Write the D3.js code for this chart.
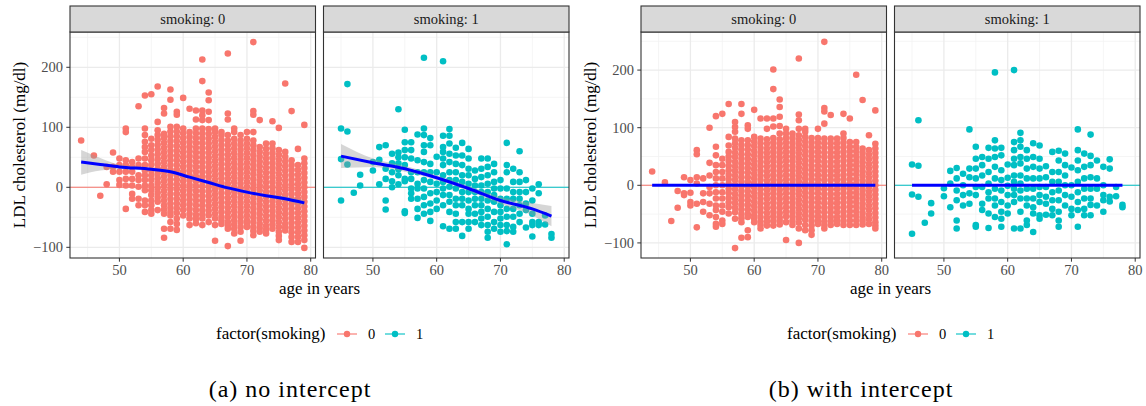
<!DOCTYPE html>
<html>
<head>
<meta charset="utf-8">
<script src="https://d3js.org/d3.v7.min.js"></script>
<style>
  body { margin: 0; background: #fff; }
  text { font-family: "Liberation Serif", "DejaVu Serif", serif; }
</style>
</head>
<body>
<script>
// ---- data (rows are [age, ldl, ldl, ...]) ----
// (a) no intercept, smoking 0
const noIntSmk0 = [
  [44, 78], [46, 53], [47, -14], [48, 34, 5], [49, 58, 34, 26], [50, 48, 37, 26, 12, 4],
  [51, 98, 92, 45, 37, 26, 14, 3, -36], [52, 42, 34, 26, 14, 3, -11, -19],
  [53, 135, 48, 37, 20, 12, 1, -19, -30],
  [54, 153, 98, 87, 76, 67, 59, 48, 37, 28, 20, 12, 3, -5, -22, -30, -41],
  [55, 155, 81, 70, 62, 53, 45, 37, 28, 20, 12, 3, -5, -13, -22, -30, -38, -44],
  [56, 168, 109, 95, 87, 79, 71, 63, 55, 47, 39, 31, 23, 15, 7, -1, -9, -17, -24, -38],
  [57, 132, 123, 89, 82, 74, 66, 58, 50, 42, 34, 26, 18, 10, 2, -6, -14, -22, -30, -37, -44, -69, -84],
  [58, 163, 146, 101, 93, 85, 77, 69, 61, 53, 45, 37, 29, 21, 13, 5, -3, -11, -19, -27, -34, -41, -47, -58, -69],
  [59, 126, 121, 101, 93, 85, 77, 69, 61, 53, 45, 37, 29, 21, 13, 5, -3, -11, -19, -27, -35, -43, -52, -61, -71],
  [60, 149, 98, 90, 82, 74, 66, 58, 50, 42, 34, 26, 18, 10, 2, -6, -14, -22, -30, -38, -47],
  [61, 131, 92, 84, 76, 68, 60, 52, 44, 36, 28, 20, 12, 4, -4, -12, -20, -28, -36, -44, -52, -63],
  [62, 128, 113, 98, 90, 82, 74, 66, 58, 50, 42, 34, 26, 18, 10, 2, -6, -14, -22, -30, -38, -46, -53, -60],
  [63, 213, 177, 128, 120, 112, 98, 90, 82, 74, 66, 58, 50, 42, 34, 26, 18, 10, 2, -6, -14, -22, -30, -38, -45, -52, -63],
  [64, 158, 145, 126, 112, 97, 89, 81, 73, 65, 57, 49, 41, 33, 25, 17, 9, 1, -7, -15, -23, -31, -39, -47, -58],
  [65, 98, 92, 84, 76, 68, 60, 52, 44, 36, 28, 20, 12, 4, -4, -12, -20, -28, -36, -44, -52, -63, -89],
  [66, 92, 87, 79, 71, 63, 55, 47, 39, 31, 23, 15, 7, -1, -9, -17, -25, -33, -41, -49, -55, -61],
  [67, 223, 123, 113, 87, 78, 70, 62, 54, 46, 38, 30, 22, 14, 6, -2, -10, -18, -26, -34, -42, -50, -58, -64, -69, -98],
  [68, 98, 92, 81, 73, 65, 57, 49, 41, 33, 25, 17, 9, 1, -7, -15, -23, -31, -39, -47, -55, -62, -69, -77],
  [69, 87, 78, 70, 62, 54, 46, 38, 30, 22, 14, 6, -2, -10, -18, -26, -34, -42, -50, -58, -66, -74, -89],
  [70, 92, 81, 73, 65, 57, 49, 41, 33, 25, 17, 9, 1, -7, -15, -23, -31, -39, -47, -55, -61, -66],
  [71, 242, 127, 121, 92, 78, 70, 62, 54, 46, 38, 30, 22, 14, 6, -2, -10, -18, -26, -34, -42, -50, -58, -66, -73, -80],
  [72, 112, 67, 59, 51, 43, 35, 27, 19, 11, 3, -5, -13, -21, -29, -37, -45, -53, -61, -68, -74],
  [73, 73, 64, 56, 48, 40, 32, 24, 16, 8, 0, -8, -16, -24, -32, -40, -48, -56, -64, -71, -77],
  [74, 110, 73, 65, 57, 49, 41, 33, 25, 17, 9, 1, -7, -15, -23, -31, -39, -47, -55, -62, -69],
  [75, 99, 62, 54, 46, 38, 30, 22, 14, 6, -2, -10, -18, -26, -34, -42, -50, -58, -66, -74, -81, -88],
  [76, 173, 59, 51, 43, 35, 27, 19, 11, 3, -5, -13, -21, -29, -37, -45, -53, -61, -67, -72],
  [77, 127, 45, 37, 29, 21, 13, 5, -3, -11, -19, -27, -35, -43, -51, -59, -67, -75, -83, -91],
  [78, 64, 37, 29, 21, 13, 5, -3, -11, -19, -27, -35, -43, -51, -59, -67, -75, -83, -91],
  [79, 104, 48, 40, 32, 24, 16, 8, 0, -8, -16, -24, -32, -40, -48, -56, -64, -72, -80, -88, -101]
];
// (a) no intercept, smoking 1
const noIntSmk1 = [
  [45, 98, 47, -22], [46, 172, 93, 38], [47, -9], [48, 21, 3], [50, 42, 28], [51, 67, 46, 5],
  [52, 70, 31, 14, -22, -37], [53, 56, 40, 25, 10, 0], [54, 130, 58, 50, 40, 30, 20, 5],
  [55, 96, 75, 62, 50, 37, 14, 10, -40, -43], [56, 75, 62, 48, 25, 14, -2, -10, -19],
  [57, 88, 45, 25, 6, -2, -19, -36, -51], [58, 216, 98, 87, 70, 59, 42, 25, 12, -2, -16, -30, -44],
  [59, 82, 70, 39, 25, 9, -10, -27, -41, -56], [60, 51, 25, 6, -8, -22, -36],
  [61, 210, 86, 67, 59, 48, 37, 20, 9, -2, -13, -30, -65],
  [62, 97, 86, 73, 56, 42, 25, 12, 1, -13, -24, -41, -69],
  [63, 66, 53, 39, 25, 12, -2, -19, -30, -44, -58, -69],
  [64, 74, 53, 37, 20, 9, -8, -19, -30, -58, -81],
  [65, 64, 48, 31, 20, 6, -8, -22, -36, -44, -58, -69],
  [66, 28, 14, 3, -8, -19, -30, -44, -58], [67, 48, 31, 17, 3, -8, -19, -30, -41, -52, -63],
  [68, 48, 34, 20, 6, -8, -22, -36, -49, -63, -74, -84], [69, 39, 25, 9, -2, -13, -24, -41, -58, -69],
  [70, 12, -2, -19, -30, -41, -52, -63, -74], [71, 74, 37, 25, -2, -19, -36, -49, -63, -73, -95],
  [72, 31, 9, -8, -19, -36, -49, -66, -74], [73, 60, 25, 9, -8, -19, -30, -44, -58],
  [74, 12, -8, -27, -38, -67], [75, -2, -22, -44, -58, -63, -82], [76, 5, -10, -58, -63],
  [77, -47, -62], [78, -78, -84]
];
// (b) with intercept, smoking 0
const withIntSmk0 = [
  [44, 24], [46, 5], [47, -62], [48, -10, -39], [49, 14, -14, -17], [50, 9, -13, -29, -35],
  [51, 61, 54, 14, 3, -32, -73], [52, 12, -14, -29, -46], [53, 100, 39, 17, -3, -14, -32, -52],
  [54, 120, 67, 52, 35, 23, 12, 0, -12, -23, -35, -43, -55, -67, -72],
  [55, 124, 46, 35, 23, 12, 0, -12, -23, -35, -46, -61, -67],
  [56, 141, 84, 69, 58, 50, 42, 34, 26, 18, 10, 2, -6, -14, -22, -30, -38, -49],
  [57, 110, 101, 93, 81, 73, 65, 57, 49, 41, 33, 25, 17, 9, 1, -7, -15, -23, -31, -39, -47, -58, -109],
  [58, 141, 124, 78, 70, 62, 54, 46, 38, 30, 22, 14, 6, -2, -10, -18, -26, -34, -42, -50, -57, -64, -91],
  [59, 104, 98, 78, 70, 62, 54, 46, 38, 30, 22, 14, 6, -2, -10, -18, -26, -34, -42, -50, -55, -78, -90],
  [60, 131, 84, 76, 68, 60, 52, 44, 36, 28, 20, 12, 4, -4, -12, -20, -28, -36, -44, -52, -58, -64],
  [61, 116, 81, 73, 65, 57, 49, 41, 33, 25, 17, 9, 1, -7, -15, -23, -31, -39, -47, -55, -63, -69, -75],
  [62, 116, 98, 80, 72, 64, 56, 48, 40, 32, 24, 16, 8, 0, -8, -16, -24, -32, -40, -48, -56, -63, -70],
  [63, 201, 167, 116, 102, 82, 74, 66, 58, 50, 42, 34, 26, 18, 10, 2, -6, -14, -22, -30, -38, -46, -54, -62, -70],
  [64, 149, 136, 119, 103, 90, 80, 72, 64, 56, 48, 40, 32, 24, 16, 8, 0, -8, -16, -24, -32, -40, -48, -56, -62, -68],
  [65, 98, 90, 82, 74, 66, 58, 50, 42, 34, 26, 18, 10, 2, -6, -14, -22, -30, -38, -46, -54, -64, -95],
  [66, 90, 82, 74, 66, 58, 50, 42, 34, 26, 18, 10, 2, -6, -14, -22, -30, -38, -46, -54, -62, -69],
  [67, 220, 123, 113, 98, 87, 79, 71, 63, 55, 47, 39, 31, 23, 15, 7, -1, -9, -17, -25, -33, -41, -49, -57, -65, -75, -100],
  [68, 98, 93, 84, 76, 68, 60, 52, 44, 36, 28, 20, 12, 4, -4, -12, -20, -28, -36, -44, -52, -60, -69, -78],
  [69, 82, 74, 66, 58, 50, 42, 34, 26, 18, 10, 2, -6, -14, -22, -30, -38, -46, -54, -62, -70, -78, -86],
  [70, 98, 82, 74, 66, 58, 50, 42, 34, 26, 18, 10, 2, -6, -14, -22, -30, -38, -46, -54, -61, -67],
  [71, 249, 134, 128, 107, 81, 73, 65, 57, 49, 41, 33, 25, 17, 9, 1, -7, -15, -23, -31, -39, -47, -55, -63, -69, -75],
  [72, 122, 81, 73, 65, 57, 49, 41, 33, 25, 17, 9, 1, -7, -15, -23, -31, -39, -47, -55, -62, -69],
  [73, 81, 73, 65, 57, 49, 41, 33, 25, 17, 9, 1, -7, -15, -23, -31, -39, -47, -55, -61, -67],
  [74, 124, 90, 82, 74, 66, 58, 50, 42, 34, 26, 18, 10, 2, -6, -14, -22, -30, -38, -46, -54, -62, -69],
  [75, 116, 75, 67, 59, 51, 43, 35, 27, 19, 11, 3, -5, -13, -21, -29, -37, -45, -53, -61, -69],
  [76, 192, 75, 67, 59, 51, 43, 35, 27, 19, 11, 3, -5, -13, -21, -29, -37, -45, -53, -61, -69],
  [77, 148, 64, 56, 48, 40, 32, 24, 16, 8, 0, -8, -16, -24, -32, -40, -48, -56, -62, -68],
  [78, 87, 61, 53, 45, 37, 29, 21, 13, 5, -3, -11, -19, -27, -35, -43, -51, -59, -67],
  [79, 130, 72, 64, 56, 48, 40, 32, 24, 16, 8, 0, -8, -16, -24, -32, -40, -48, -56, -64, -70, -75]
];
// (b) with intercept, smoking 1
const withIntSmk1 = [
  [45, 36, -16, -84], [46, 113, 34, -20], [47, -65], [48, -31, -49], [50, -5, -19], [51, 25, 3, -38],
  [52, 30, 12, -9, -26, -61, -75], [53, 20, 0, -17, -35], [54, 97, 29, 14, -14, -32],
  [55, 67, 46, 29, 12, -3, -17, -69, -72], [56, 49, 35, 17, -3, -32, -43],
  [57, 65, 46, 23, 3, -12, -23, -49, -74], [58, 196, 78, 64, 49, 32, 12, -6, -23, -35, -55],
  [59, 65, 52, 26, 9, -9, -29, -46, -58, -72], [60, 36, 13, -1, -17, -35, -49],
  [61, 200, 75, 61, 46, 35, 17, 6, -6, -17, -29, -75], [62, 91, 78, 67, 49, 38, 17, 3, -9, -23, -46, -75],
  [63, 61, 46, 29, 12, -6, -23, -35, -61, -69], [64, 73, 49, 32, 12, -6, -23, -38, -49, -81],
  [65, 69, 46, 29, 12, -3, -17, -29, -52, -58], [66, 33, 14, -3, -20, -32, -51],
  [67, 58, 23, 6, -12, -26, -41, -52], [68, 60, 43, 23, 6, -9, -26, -46, -61, -72],
  [69, 55, 35, 17, 0, -17, -35], [70, 31, 0, -20, -41, -52], [71, 97, 61, 43, 26, 6, -12, -29, -43, -72],
  [72, 55, 32, 12, -6, -23, -41, -52], [73, 88, 51, 35, 14, -6, -23, -34, -52], [74, 43, 12, -6, -35],
  [75, 32, 0, -17, -26, -46], [76, 45, 29, -20, -28], [77, -3, -19], [78, -34, -38]
];

// smoother fits: age, fit, lower, upper
const fitAges0 = [44, 47, 50, 55, 58, 61, 64, 67, 70, 73, 76, 79];
const fitA0 = [42, 38, 34, 30, 26, 17, 8, -1, -8, -14, -19, -26];
const loA0 = [21, 28, 30, 27, 23, 14, 5, -4, -11, -17, -23, -31];
const hiA0 = [62, 49, 38, 33, 29, 20, 11, 2, -5, -11, -15, -21];
const fitAges1 = [45, 50, 55, 60, 65, 70, 75, 78];
const fitA1 = [52, 41, 31, 16, -2, -22, -36, -48];
const loA1 = [32, 34, 26, 12, -6, -28, -47, -65];
const hiA1 = [72, 48, 36, 20, 2, -16, -26, -31];
const fitB0 = [[44, 0], [79, 0]];
const fitB1 = [[45, 0], [78, 0]];

const xTicks = [50, 60, 70, 80];
const xMinor = [45, 55, 65, 75];
const yTicks = [-100, 0, 100, 200];
const yMinor = [-50, 50, 150, 250];
const groups = ["0", "1"];
const colors = ["#F8766D", "#00BFC4"];

// ---- layout ----
const W = 1146, H = 406;
const svg = d3.select("body").append("svg").attr("width", W).attr("height", H);

const panelW = 245.5, plotTop = 32, plotBottom = 258;
const x = d3.scaleLinear().domain([42.25, 80.75]).range([0, panelW]);

function rows2pts(rows) {
  return rows.flatMap(([age, ...v]) => v.map(ldl => ({age, ldl})));
}

function drawFigure(dx, yDomain, sets, fits, ribbons, caption, capX) {
  const y = d3.scaleLinear().domain(yDomain).range([plotBottom, plotTop]);
  const g = svg.append("g").attr("transform", `translate(${dx},0)`);
  const lefts = [70, 323.5];

  sets.forEach((rows, i) => {
    const p = g.append("g").attr("transform", `translate(${lefts[i]},0)`);
    p.append("rect").attr("x", 0).attr("y", plotTop).attr("width", panelW).attr("height", plotBottom - plotTop)
      .attr("fill", "#fff");
    // grid
    p.selectAll(".vmin").data(xMinor).join("line")
      .attr("x1", d => x(d)).attr("x2", d => x(d)).attr("y1", plotTop).attr("y2", plotBottom)
      .attr("stroke", "#f2f2f2").attr("stroke-width", 0.8);
    p.selectAll(".hmin").data(yMinor.filter(d => y(d) > plotTop)).join("line")
      .attr("x1", 0).attr("x2", panelW).attr("y1", d => y(d)).attr("y2", d => y(d))
      .attr("stroke", "#f2f2f2").attr("stroke-width", 0.8);
    p.selectAll(".vmaj").data(xTicks).join("line")
      .attr("x1", d => x(d)).attr("x2", d => x(d)).attr("y1", plotTop).attr("y2", plotBottom)
      .attr("stroke", "#ebebeb").attr("stroke-width", 1.3);
    p.selectAll(".hmaj").data(yTicks).join("line")
      .attr("x1", 0).attr("x2", panelW).attr("y1", d => y(d)).attr("y2", d => y(d))
      .attr("stroke", "#ebebeb").attr("stroke-width", 1.3);

    // reference line at 0
    p.append("line").attr("x1", 0).attr("x2", panelW).attr("y1", y(0)).attr("y2", y(0))
      .attr("stroke", colors[i]).attr("stroke-width", 1.1);

    // points
    p.selectAll("circle.pt").data(rows2pts(rows)).join("circle")
      .attr("class", "pt")
      .attr("cx", d => x(d.age)).attr("cy", d => y(d.ldl)).attr("r", 3.3)
      .attr("fill", colors[i]);

    // ribbon + fit
    if (ribbons) {
      const r = ribbons[i];
      const area = d3.area().x(d => x(d[0])).y0(d => y(d[1])).y1(d => y(d[2])).curve(d3.curveMonotoneX);
      p.append("path").datum(r.ages.map((a, k) => [a, r.lo[k], r.hi[k]]))
        .attr("d", area).attr("fill", "#999").attr("fill-opacity", 0.4);
    }
    const line = d3.line().x(d => x(d[0])).y(d => y(d[1])).curve(d3.curveMonotoneX);
    p.append("path").datum(fits[i]).attr("d", line)
      .attr("fill", "none").attr("stroke", "#0000FF").attr("stroke-width", 3);

    // border
    p.append("rect").attr("x", 0).attr("y", plotTop).attr("width", panelW).attr("height", plotBottom - plotTop)
      .attr("fill", "none").attr("stroke", "#333").attr("stroke-width", 1.1);
    // strip
    p.append("rect").attr("x", 0).attr("y", 6).attr("width", panelW).attr("height", plotTop - 6)
      .attr("fill", "#d9d9d9").attr("stroke", "#333").attr("stroke-width", 1.1);
    p.append("text").attr("x", panelW / 2).attr("y", 24).attr("text-anchor", "middle")
      .attr("font-size", 14.5).attr("fill", "#1a1a1a").text(`smoking: ${groups[i]}`);

    // x axis ticks
    p.selectAll(".xt").data(xTicks).join("line")
      .attr("x1", d => x(d)).attr("x2", d => x(d)).attr("y1", plotBottom).attr("y2", plotBottom + 3.7)
      .attr("stroke", "#333").attr("stroke-width", 1);
    p.selectAll(".xl").data(xTicks).join("text")
      .attr("x", d => x(d)).attr("y", plotBottom + 17).attr("text-anchor", "middle")
      .attr("font-size", 14.5).attr("fill", "#4d4d4d").text(d => d);

    if (i === 0) {
      p.selectAll(".yt").data(yTicks).join("line")
        .attr("x1", -3.7).attr("x2", 0).attr("y1", d => y(d)).attr("y2", d => y(d))
        .attr("stroke", "#333").attr("stroke-width", 1);
      p.selectAll(".yl").data(yTicks).join("text")
        .attr("x", -7).attr("y", d => y(d) + 5).attr("text-anchor", "end")
        .attr("font-size", 14.5).attr("fill", "#4d4d4d").text(d => d < 0 ? "\u2212" + (-d) : d);
    }
  });

  // axis titles
  g.append("text").attr("x", 319.5).attr("y", 294).attr("text-anchor", "middle")
    .attr("font-size", 17).text("age in years");
  g.append("text").attr("transform", "translate(25,145) rotate(-90)").attr("text-anchor", "middle")
    .attr("font-size", 17).text("LDL cholesterol (mg/dl)");

  // legend
  const leg = g.append("g");
  leg.append("text").attr("x", 216).attr("y", 339).attr("font-size", 17).text("factor(smoking)");
  const keyX = [337, 385];
  const labX = [368, 416];
  groups.forEach((k, i) => {
    leg.append("line").attr("x1", keyX[i]).attr("x2", keyX[i] + 20).attr("y1", 334).attr("y2", 334)
      .attr("stroke", colors[i]).attr("stroke-width", 1.1);
    leg.append("circle").attr("cx", keyX[i] + 10).attr("cy", 334).attr("r", 3.2).attr("fill", colors[i]);
    leg.append("text").attr("x", labX[i]).attr("y", 339).attr("font-size", 14.5).attr("fill", "#000").text(k);
  });

  // caption
  svg.append("text").attr("x", capX).attr("y", 397).attr("text-anchor", "middle")
    .attr("font-size", 24).attr("letter-spacing", 1).text(caption);
}

drawFigure(0, [-117.8, 258.8], [noIntSmk0, noIntSmk1],
  [fitAges0.map((a, k) => [a, fitA0[k]]), fitAges1.map((a, k) => [a, fitA1[k]])],
  [{ages: fitAges0, lo: loA0, hi: hiA0}, {ages: fitAges1, lo: loA1, hi: hiA1}],
  "(a) no intercept", 290);

drawFigure(571, [-126.2, 266.1], [withIntSmk0, withIntSmk1],
  [fitB0, fitB1], null, "(b) with intercept", 861);
</script>
</body>
</html>
